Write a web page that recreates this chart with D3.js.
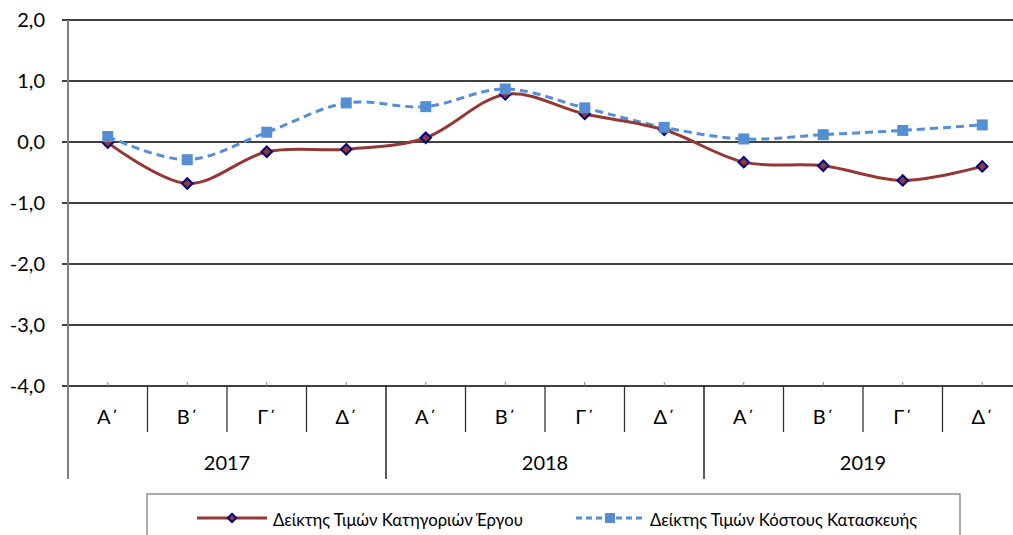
<!DOCTYPE html>
<html><head><meta charset="utf-8">
<script src="https://cdn.jsdelivr.net/npm/d3@7"></script>
<style>body{margin:0;background:#fff}svg{display:block}</style>
</head><body>
<svg id="c" width="1013" height="535"></svg>
<script>
const quarters = ["Α΄","Β΄","Γ΄","Δ΄","Α΄","Β΄","Γ΄","Δ΄","Α΄","Β΄","Γ΄","Δ΄"];
const years = ["2017","2018","2019"];
const seriesNames = ["Δείκτης Τιμών Κατηγοριών Έργου","Δείκτης Τιμών Κόστους Κατασκευής"];
const worksIndex = [-0.01,-0.68,-0.16,-0.12,0.07,0.78,0.46,0.20,-0.33,-0.39,-0.63,-0.40];
const costIndex = [0.09,-0.29,0.16,0.64,0.58,0.87,0.56,0.24,0.05,0.12,0.19,0.28];
const yTicks = [2,1,0,-1,-2,-3,-4];

const svg = d3.select("#c");
const font = "Lato, 'Open Sans', sans-serif";
const L = 68, R = 1022, T = 20, B = 386;
const x = d3.scaleBand().domain(d3.range(quarters.length)).range([L, R]);
const y = d3.scaleLinear().domain([-4, 2]).range([B, T]);
const cx = i => x(i) + x.bandwidth() / 2;
const fmt = v => d3.format(".1f")(v).replace(".", ",").replace("\u2212", "-");

// gridlines
svg.append("g").selectAll("line").data(yTicks).join("line")
  .attr("x1", L - 6).attr("x2", R).attr("y1", d => y(d)).attr("y2", d => y(d))
  .attr("stroke", "#000").attr("stroke-width", 1.4);
// y labels
svg.append("g").selectAll("text").data(yTicks).join("text")
  .attr("x", 45).attr("y", d => y(d)).attr("dy", "0.36em")
  .attr("text-anchor", "end").attr("font-family", font).attr("font-size", 20)
  .attr("fill", "#000").text(fmt);
// left axis
svg.append("line").attr("x1", L).attr("x2", L).attr("y1", T).attr("y2", 479)
  .attr("stroke", "#808080").attr("stroke-width", 2);
// bottom axis minor ticks
svg.append("g").selectAll("line").data(d3.range(quarters.length)).join("line")
  .attr("x1", cx).attr("x2", cx).attr("y1", B - 4).attr("y2", B)
  .attr("stroke", "#808080").attr("stroke-width", 1);
// separators
svg.append("g").selectAll("line").data(d3.range(1, quarters.length + 1)).join("line")
  .attr("x1", d => x(0) + d * x.bandwidth()).attr("x2", d => x(0) + d * x.bandwidth())
  .attr("y1", B).attr("y2", d => d % 4 === 0 ? 479 : 432)
  .attr("stroke", d => d % 4 === 0 ? "#000" : "#333").attr("stroke-width", 1.3);
// quarter labels
svg.append("g").selectAll("text").data(quarters).join("text")
  .attr("x", (d, i) => cx(i)).attr("y", 417).attr("dy", "0.36em")
  .attr("text-anchor", "middle").attr("font-family", font).attr("font-size", 20)
  .text(d => d);
// year labels
svg.append("g").selectAll("text").data(years).join("text")
  .attr("x", (d, i) => x(0) + (i * 4 + 2) * x.bandwidth()).attr("y", 463).attr("dy", "0.36em")
  .attr("text-anchor", "middle").attr("font-family", font).attr("font-size", 20)
  .text(d => d);

const line = d3.line().x((d, i) => cx(i)).y(d => y(d)).curve(d3.curveCardinal.tension(0));
const redC = "#953735", blueC = "#558ED5", navy = "#00007F";
const diamond = d3.symbol().type(d3.symbolDiamond2).size(70);
// cost series (blue dashed)
svg.append("path").attr("d", line(costIndex)).attr("fill", "none")
  .attr("stroke", blueC).attr("stroke-width", 3).attr("stroke-dasharray", "8,5");
// works series (red)
svg.append("path").attr("d", line(worksIndex)).attr("fill", "none")
  .attr("stroke", redC).attr("stroke-width", 3);
svg.append("g").selectAll("path").data(worksIndex).join("path")
  .attr("d", diamond).attr("transform", (d, i) => `translate(${cx(i)},${y(d)})`)
  .attr("fill", redC).attr("stroke", navy).attr("stroke-width", 2);
svg.append("g").selectAll("rect").data(costIndex).join("rect")
  .attr("x", (d, i) => cx(i) - 5.5).attr("y", d => y(d) - 5.5)
  .attr("width", 11).attr("height", 11).attr("fill", blueC);

// legend
svg.append("rect").attr("x", 147).attr("y", 494).attr("width", 813).attr("height", 60)
  .attr("fill", "#fff").attr("stroke", "#808080").attr("stroke-width", 1.3);
const lg = svg.append("g");
lg.append("line").attr("x1", 197).attr("x2", 267).attr("y1", 518).attr("y2", 518)
  .attr("stroke", redC).attr("stroke-width", 3);
lg.append("path").attr("d", d3.symbol().type(d3.symbolDiamond2).size(45))
  .attr("transform", "translate(232,518)").attr("fill", redC).attr("stroke", navy).attr("stroke-width", 2);
lg.append("text").attr("x", 273).attr("y", 520).attr("dy", "0.36em")
  .attr("font-family", font).attr("font-size", 16.7).text(seriesNames[0]);
lg.append("line").attr("x1", 576).attr("x2", 643).attr("y1", 518).attr("y2", 518)
  .attr("stroke", blueC).attr("stroke-width", 3).attr("stroke-dasharray", "6,4");
lg.append("rect").attr("x", 605).attr("y", 513).attr("width", 10).attr("height", 10).attr("fill", blueC);
lg.append("text").attr("x", 650).attr("y", 520).attr("dy", "0.36em")
  .attr("font-family", font).attr("font-size", 16.7).text(seriesNames[1]);
</script>
</body></html>
